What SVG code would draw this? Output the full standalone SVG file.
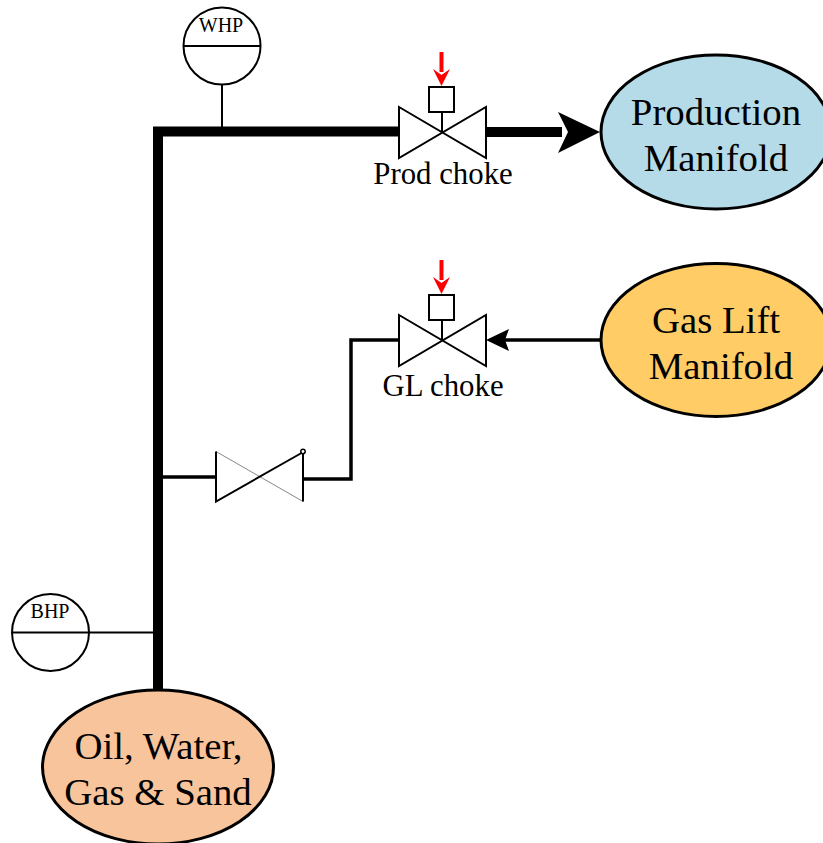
<svg xmlns="http://www.w3.org/2000/svg" width="823" height="843" viewBox="0 0 823 843">
<style>
text{font-family:"Liberation Serif","Times New Roman",serif;fill:#000;text-anchor:middle}
.big{font-size:38.8px}.mid{font-size:30.8px}.small{font-size:20px}
.e{stroke:#000;stroke-width:3}
.v{fill:#fff;stroke:#000;stroke-width:2}
.l{fill:none;stroke:#000}
.r{fill:none;stroke:#f00;stroke-width:4}
</style>
<rect width="823" height="843" fill="#fff"/>
<g id="connectors">
<path class="l" stroke-width="10" d="M158 690V131.500H399"/>
<path class="l" stroke-width="10" d="M486 132H562"/>
<path d="M558 112L600 132L558 153L568 132Z" fill="#000"/>
<path class="l" stroke-width="3.500" d="M601 340H500"/>
<path d="M486 340L509 329L505 340L509 351Z" fill="#000"/>
<path class="l" stroke-width="3.500" d="M399 340H351V479H303"/>
<path class="l" stroke-width="3.500" d="M163 477H216"/>
<path class="l" stroke-width="2" d="M222 84V128"/>
<path class="l" stroke-width="2" d="M89 632.500H153"/>
<path class="r" d="M441.500 52V72"/>
<path d="M433 69L441.500 86L450 69L441.500 75Z" fill="#f00"/>
<path class="r" d="M441.500 260V280"/>
<path d="M433 277L441.500 294L450 277L441.500 283Z" fill="#f00"/>
</g>
<g id="whp">
<circle cx="222" cy="46" r="38.500" fill="#fff" stroke="#000" stroke-width="2"/>
<path class="l" stroke-width="2" d="M183.500 46H260.500"/>
<text class="small" x="221" y="32">WHP</text>
</g>
<g id="bhp">
<circle cx="50.500" cy="632.500" r="38.500" fill="#fff" stroke="#000" stroke-width="2"/>
<path class="l" stroke-width="2" d="M12 632.500H89"/>
<text class="small" x="50" y="618">BHP</text>
</g>
<g id="prod-choke">
<path class="v" d="M399 107L486 158V107L399 158Z"/>
<path class="l" stroke-width="2" d="M442 112V132"/>
<rect x="429" y="87" width="25" height="25" class="v"/>
<text class="mid" x="443" y="184">Prod choke</text>
</g>
<g id="gl-choke">
<path class="v" d="M399 315L486 366V315L399 366Z"/>
<path class="l" stroke-width="2" d="M442 320V340"/>
<rect x="429" y="295" width="25" height="25" class="v"/>
<text class="mid" x="443" y="396">GL choke</text>
</g>
<g id="check-valve">
<path d="M216 451.500V501.500L303 451.500V501.500Z" fill="#fff" stroke="none"/>
<path d="M216 451.500L303 501.500" fill="none" stroke="#888" stroke-width="1"/>
<path class="l" stroke-width="2" d="M216 451.500V501.500L301.500 453M303 453V501.500"/>
<circle cx="303" cy="451.500" r="2.200" fill="#fff" stroke="#000" stroke-width="1.500"/>
</g>
<g id="production-manifold">
<ellipse class="e" cx="716" cy="132" rx="115" ry="77" fill="#b5dbe8"/>
<text class="big" x="716" y="125">Production</text>
<text class="big" x="716" y="171">Manifold</text>
</g>
<g id="gas-lift-manifold">
<ellipse class="e" cx="716" cy="340" rx="115" ry="76.500" fill="#ffcc66"/>
<text class="big" x="716" y="333">Gas Lift</text>
<text class="big" x="721" y="379">Manifold</text>
</g>
<g id="reservoir">
<ellipse class="e" cx="158" cy="767" rx="115.500" ry="77" fill="#f8c49c"/>
<text class="big" x="158.500" y="759">Oil, Water,</text>
<text class="big" x="158" y="805">Gas &amp; Sand</text>
</g>
</svg>
